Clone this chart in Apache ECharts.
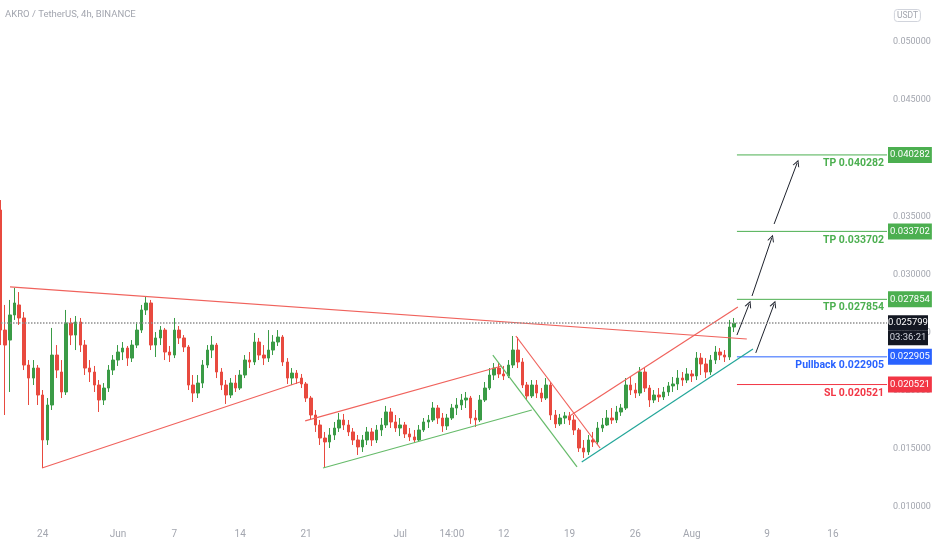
<!DOCTYPE html>
<html>
<head>
<meta charset="utf-8">
<script src="https://cdn.jsdelivr.net/npm/echarts@6/dist/echarts.min.js"></script>
<style>html,body{margin:0;padding:0;background:#fff}#c{width:932px;height:550px}</style>
</head>
<body>
<div id="c"></div>
<script>
// 12h candles (AKRO/USDT), first candle 2021-05-19 12:00
const opens = [
0.03554,0.02521,0.02435,0.02651,0.02737,0.02625,0.02220,0.02108,0.02194,0.01962,
0.01575,0.01876,0.02306,0.02160,0.01988,0.02582,0.02478,0.02590,0.02392,0.02194,
0.02160,0.02048,0.01919,0.02022,0.02177,0.02263,0.02332,0.02366,0.02280,0.02392,
0.02521,0.02694,0.02754,0.02392,0.02453,0.02521,0.02332,0.02306,0.02521,0.02453,
0.02375,0.02048,0.01979,0.02065,0.02220,0.02349,0.02392,0.02160,0.02048,0.01962,
0.02065,0.02022,0.02134,0.02263,0.02246,0.02418,0.02306,0.02280,0.02349,0.02418,
0.02461,0.02246,0.02108,0.02151,0.02108,0.02057,0.01936,0.01790,0.01704,0.01592,
0.01558,0.01618,0.01678,0.01747,0.01704,0.01644,0.01575,0.01515,0.01575,0.01644,
0.01575,0.01661,0.01704,0.01816,0.01730,0.01678,0.01704,0.01627,0.01601,0.01575,
0.01661,0.01730,0.01747,0.01850,0.01764,0.01696,0.01764,0.01850,0.01876,0.01919,
0.01936,0.01764,0.01747,0.01919,0.02022,0.02134,0.02194,0.02143,0.02126,0.02220,
0.02349,0.02246,0.02048,0.01954,0.02048,0.01979,0.01936,0.02048,0.01790,0.01713,
0.01764,0.01782,0.01747,0.01661,0.01506,0.01472,0.01575,0.01558,0.01678,0.01704,
0.01764,0.01747,0.01816,0.01850,0.02048,0.02005,0.01979,0.02160,0.02022,0.01919,
0.01962,0.01945,0.01988,0.02040,0.02057,0.02108,0.02091,0.02143,0.02126,0.02280,
0.02229,0.02160,0.02263,0.02332,0.02306,0.02289,0.02547];
const closes = [
0.02521,0.02392,0.02651,0.02754,0.02625,0.02220,0.02108,0.02194,0.01962,0.01575,
0.01876,0.02306,0.02177,0.01988,0.02582,0.02478,0.02590,0.02392,0.02194,0.02160,
0.02048,0.01919,0.02022,0.02177,0.02263,0.02332,0.02366,0.02280,0.02392,0.02521,
0.02694,0.02754,0.02392,0.02453,0.02521,0.02332,0.02306,0.02521,0.02453,0.02375,
0.02048,0.01979,0.02065,0.02220,0.02349,0.02392,0.02160,0.02048,0.01962,0.02065,
0.02022,0.02134,0.02263,0.02246,0.02418,0.02306,0.02280,0.02349,0.02418,0.02461,
0.02246,0.02108,0.02151,0.02108,0.02057,0.01936,0.01790,0.01704,0.01592,0.01558,
0.01618,0.01678,0.01747,0.01704,0.01644,0.01575,0.01515,0.01575,0.01644,0.01575,
0.01661,0.01704,0.01816,0.01730,0.01678,0.01704,0.01627,0.01601,0.01575,0.01661,
0.01730,0.01747,0.01850,0.01764,0.01696,0.01764,0.01850,0.01876,0.01919,0.01936,
0.01764,0.01747,0.01919,0.02022,0.02134,0.02194,0.02143,0.02126,0.02220,0.02349,
0.02246,0.02048,0.01954,0.02048,0.01979,0.01936,0.02048,0.01790,0.01713,0.01764,
0.01782,0.01747,0.01661,0.01506,0.01472,0.01575,0.01558,0.01678,0.01704,0.01764,
0.01747,0.01816,0.01850,0.02048,0.02005,0.01979,0.02160,0.02022,0.01919,0.01962,
0.01945,0.01988,0.02040,0.02057,0.02108,0.02091,0.02143,0.02126,0.02280,0.02229,
0.02160,0.02263,0.02332,0.02306,0.02289,0.02547,0.02580];
const lows = [
0.02392,0.01790,0.01988,0.02608,0.02565,0.02177,0.01876,0.02048,0.01876,0.01334,
0.01532,0.01833,0.02108,0.01936,0.01962,0.02392,0.02349,0.02332,0.02134,0.02074,
0.01988,0.01816,0.01876,0.01988,0.02134,0.02212,0.02263,0.02212,0.02246,0.02366,
0.02496,0.02651,0.02349,0.02289,0.02392,0.02263,0.02246,0.02280,0.02401,0.02332,
0.02005,0.01902,0.01936,0.02022,0.02194,0.02280,0.02108,0.02005,0.01885,0.01936,
0.01988,0.02005,0.02108,0.02194,0.02220,0.02263,0.02220,0.02246,0.02306,0.02384,
0.02212,0.02057,0.02048,0.02057,0.02022,0.01902,0.01747,0.01644,0.01532,0.01334,
0.01506,0.01575,0.01644,0.01661,0.01609,0.01532,0.01446,0.01472,0.01532,0.01523,
0.01549,0.01609,0.01678,0.01678,0.01644,0.01609,0.01592,0.01566,0.01549,0.01558,
0.01644,0.01678,0.01730,0.01713,0.01644,0.01661,0.01747,0.01790,0.01833,0.01850,
0.01713,0.01687,0.01730,0.01902,0.02005,0.02091,0.02108,0.02091,0.02108,0.02194,
0.02194,0.02022,0.01919,0.01936,0.01936,0.01902,0.01919,0.01747,0.01678,0.01696,
0.01713,0.01704,0.01618,0.01472,0.01420,0.01446,0.01515,0.01532,0.01644,0.01696,
0.01713,0.01721,0.01782,0.01833,0.01962,0.01936,0.01954,0.01988,0.01859,0.01893,
0.01902,0.01919,0.01954,0.01988,0.02005,0.02040,0.02065,0.02074,0.02091,0.02134,
0.02108,0.02134,0.02229,0.02263,0.02246,0.02263,0.02504];
const highs = [
0.03640,0.02737,0.02780,0.02883,0.02848,0.02676,0.02263,0.02263,0.02220,0.02005,
0.01936,0.02539,0.02392,0.02263,0.02694,0.02625,0.02642,0.02625,0.02435,0.02263,
0.02212,0.02091,0.02065,0.02220,0.02306,0.02392,0.02418,0.02384,0.02435,0.02590,
0.02737,0.02814,0.02780,0.02504,0.02556,0.02539,0.02384,0.02625,0.02556,0.02478,
0.02392,0.02134,0.02134,0.02263,0.02392,0.02470,0.02410,0.02194,0.02091,0.02108,
0.02134,0.02177,0.02306,0.02332,0.02496,0.02453,0.02392,0.02521,0.02478,0.02521,
0.02478,0.02280,0.02194,0.02177,0.02143,0.02074,0.01954,0.01833,0.01747,0.01644,
0.01678,0.01730,0.01807,0.01799,0.01747,0.01678,0.01618,0.01618,0.01687,0.01678,
0.01704,0.01764,0.01868,0.01850,0.01790,0.01764,0.01730,0.01678,0.01661,0.01704,
0.01764,0.01790,0.01902,0.01876,0.01807,0.01799,0.01885,0.01936,0.01971,0.01988,
0.01954,0.01833,0.01962,0.02074,0.02194,0.02237,0.02246,0.02212,0.02263,0.02470,
0.02461,0.02280,0.02074,0.02091,0.02091,0.02022,0.02108,0.02074,0.01833,0.01799,
0.01816,0.01816,0.01790,0.01678,0.01575,0.01618,0.01644,0.01730,0.01764,0.01833,
0.01850,0.01868,0.01885,0.02108,0.02117,0.02065,0.02203,0.02194,0.02048,0.02005,
0.02022,0.02031,0.02074,0.02117,0.02177,0.02160,0.02194,0.02177,0.02332,0.02323,
0.02280,0.02306,0.02384,0.02366,0.02349,0.02608,0.02625];

const futureSlots = 32;
const tickDates = ['2021-05-24T00:00','2021-06-01T00:00','2021-06-07T00:00','2021-06-14T00:00','2021-06-21T00:00','2021-07-01T00:00','2021-07-06T12:00','2021-07-12T00:00','2021-07-19T00:00','2021-07-26T00:00','2021-08-01T00:00','2021-08-09T00:00','2021-08-16T00:00'];
const tickText = ['24','Jun','7','14','21','Jul','14:00','12','19','26','Aug','9','16'];

// annotation lines, in [slot index, price]
const redLines = [
  [[2.05, 0.02892], [158.7, 0.02444]],
  [[8.85, 0.01334], [63.7, 0.02074]],
  [[64.8, 0.01739], [106.6, 0.02212]],
  [[109.6, 0.02470], [127.5, 0.01506]],
  [[120.7, 0.01773], [156.8, 0.02719]]
];
const greenLines = [
  [[68.6, 0.01334], [113.0, 0.01833]],
  [[104.7, 0.02306], [122.6, 0.01343]]
];
const tealLines = [
  [[123.6, 0.01386], [160.0, 0.02358]]
];
const arrows = [
  [[156.6, 0.02478], [159.2, 0.02745]],
  [[160.6, 0.02324], [164.5, 0.02745]],
  [[159.8, 0.02814], [164.0, 0.03313]],
  [[164.5, 0.03434], [169.4, 0.03959]]
];
const tpLevels = [0.040282, 0.033702, 0.027854];
const pullbackLevel = 0.022905;
const slLevel = 0.020521;
const lastPrice = 0.025799;
const countdown = '03:36:21';
const levelStartSlot = 156.6;

const startMs = Date.UTC(2021, 4, 19, 12);
const categories = [];
for (let i = 0; i < opens.length + futureSlots; i++) {
  categories.push(new Date(startMs + i * 12 * 3600e3).toISOString().slice(0, 16));
}
const lastSlot = categories.length - 0.5;
const FF = "Roboto, 'Liberation Sans', sans-serif";

const ml = [];
function seg(pair, color, width, endSymbol) {
  ml.push([
    {coord: pair[0], symbol: 'none', lineStyle: {color: color, width: width, type: 'solid'}},
    {coord: pair[1], symbol: endSymbol || 'none', lineStyle: {color: color, width: width, type: 'solid'}}
  ]);
}
redLines.forEach(p => seg(p, '#f0625c', 1.2));
greenLines.forEach(p => seg(p, '#66bb6a', 1.2));
tealLines.forEach(p => seg(p, '#22a699', 1.2));
const chevron = 'path://M0,10 L5,0 L10,10 L8.5,10 L5,3 L1.5,10 Z';
arrows.forEach(p => seg(p, '#1e222d', 1, chevron));

const levelSeries = [];
function level(value, color, text) {
  levelSeries.push({
    type: 'line', xAxisIndex: 1, yAxisIndex: 0, z: 4, silent: true, symbol: 'none',
    data: [[levelStartSlot, value], [lastSlot, value]],
    lineStyle: {color: color, width: 1}, itemStyle: {color: color}
  });
  const hidden = {color: color, width: 0};
  ml.push([
    {coord: [levelStartSlot, value], symbol: 'none', lineStyle: hidden,
     label: {show: true, position: 'insideEndBottom', distance: 3, formatter: text, color: color,
             fontWeight: 'bold', fontSize: 10.5, fontFamily: FF}},
    {coord: [lastSlot, value], symbol: 'none', lineStyle: hidden}
  ]);
  ml.push([
    {coord: [levelStartSlot, value], symbol: 'none', lineStyle: hidden,
     label: {show: true, position: 'end', distance: 1, formatter: value.toFixed(6), color: '#fff',
             backgroundColor: color, padding: [2, 2, 2, 2], lineHeight: 12, fontSize: 9.5, fontFamily: FF}},
    {coord: [lastSlot, value], symbol: 'none', lineStyle: hidden}
  ]);
}
tpLevels.forEach(v => level(v, '#4caf50', 'TP ' + v.toFixed(6)));
level(pullbackLevel, '#2962ff', 'Pullback ' + pullbackLevel.toFixed(6));
level(slLevel, '#f23645', 'SL ' + slLevel.toFixed(6));

const dotted = {color: '#8f8f8f', width: 1.5, type: 'dotted'};
ml.push([
  {coord: [-0.5, lastPrice], symbol: 'none', lineStyle: dotted,
   label: {show: true, position: 'end', distance: 1,
           formatter: '{s| }\n{a|' + lastPrice.toFixed(6) + '}\n{b|' + countdown + '}',
           rich: {
             s: {height: 14, width: 40, fontSize: 9.5},
             a: {backgroundColor: '#131722', color: '#ffffff', fontSize: 9.5, fontFamily: FF, width: 40, height: 15, lineHeight: 15, align: 'center'},
             b: {backgroundColor: '#131722', color: '#d1d4dc', fontSize: 9.5, fontFamily: FF, width: 40, height: 15, lineHeight: 15, align: 'center'}
           }}},
  {coord: [lastSlot, lastPrice], symbol: 'none', lineStyle: dotted}
]);

const chart = echarts.init(document.getElementById('c'));
chart.setOption({
  animation: false,
  backgroundColor: '#ffffff',
  title: [
    {text: 'AKRO / TetherUS, 4h, BINANCE', left: 5, top: 10, padding: 0,
     textStyle: {fontSize: 9.5, color: '#a3a6af', fontWeight: 'normal', fontFamily: FF}},
    {text: 'USDT', right: 11, top: 9, padding: [2, 3, 2, 3], borderColor: '#d1d4dc', borderWidth: 1, borderRadius: 3,
     textStyle: {fontSize: 8.5, color: '#a3a6af', fontWeight: 'normal', fontFamily: FF}}
  ],
  grid: {left: -2, right: 45, top: -16.1, bottom: -14.9, containLabel: false, outerBoundsMode: 'none'},
  xAxis: [
    {type: 'category', data: categories, boundaryGap: true, position: 'bottom', offset: -43,
     axisLine: {show: false}, axisTick: {show: false}, splitLine: {show: false},
     axisLabel: {
       interval: (i, v) => tickDates.indexOf(v) >= 0,
       formatter: (v) => tickText[tickDates.indexOf(v)],
       color: '#a3a6af', fontSize: 10, margin: 8, fontFamily: FF
     }},
    {type: 'value', min: -0.5, max: lastSlot, show: false}
  ],
  yAxis: {
    type: 'value', position: 'right', min: 0.005, max: 0.055, interval: 0.005,
    axisLine: {show: false}, axisTick: {show: false}, splitLine: {show: false},
    axisLabel: {margin: 6, color: '#a3a6af', fontSize: 9, fontFamily: FF, formatter: v => v.toFixed(6)}
  },
  series: [
    {
      type: 'candlestick', xAxisIndex: 0, yAxisIndex: 0, barWidth: 3,
      data: opens.map((o, i) => [o, closes[i], lows[i], highs[i]]),
      itemStyle: {color: '#3a9b46', color0: '#e84a3f', borderColor: '#3a9b46', borderColor0: '#e84a3f', borderWidth: 1}
    },
    {
      type: 'line', xAxisIndex: 1, yAxisIndex: 0, data: [], z: 5,
      markLine: {silent: true, animation: false, symbol: ['none', 'none'], symbolSize: [7, 7], label: {show: false}, data: ml}
    }
  ].concat(levelSeries)
});
</script>
</body>
</html>
